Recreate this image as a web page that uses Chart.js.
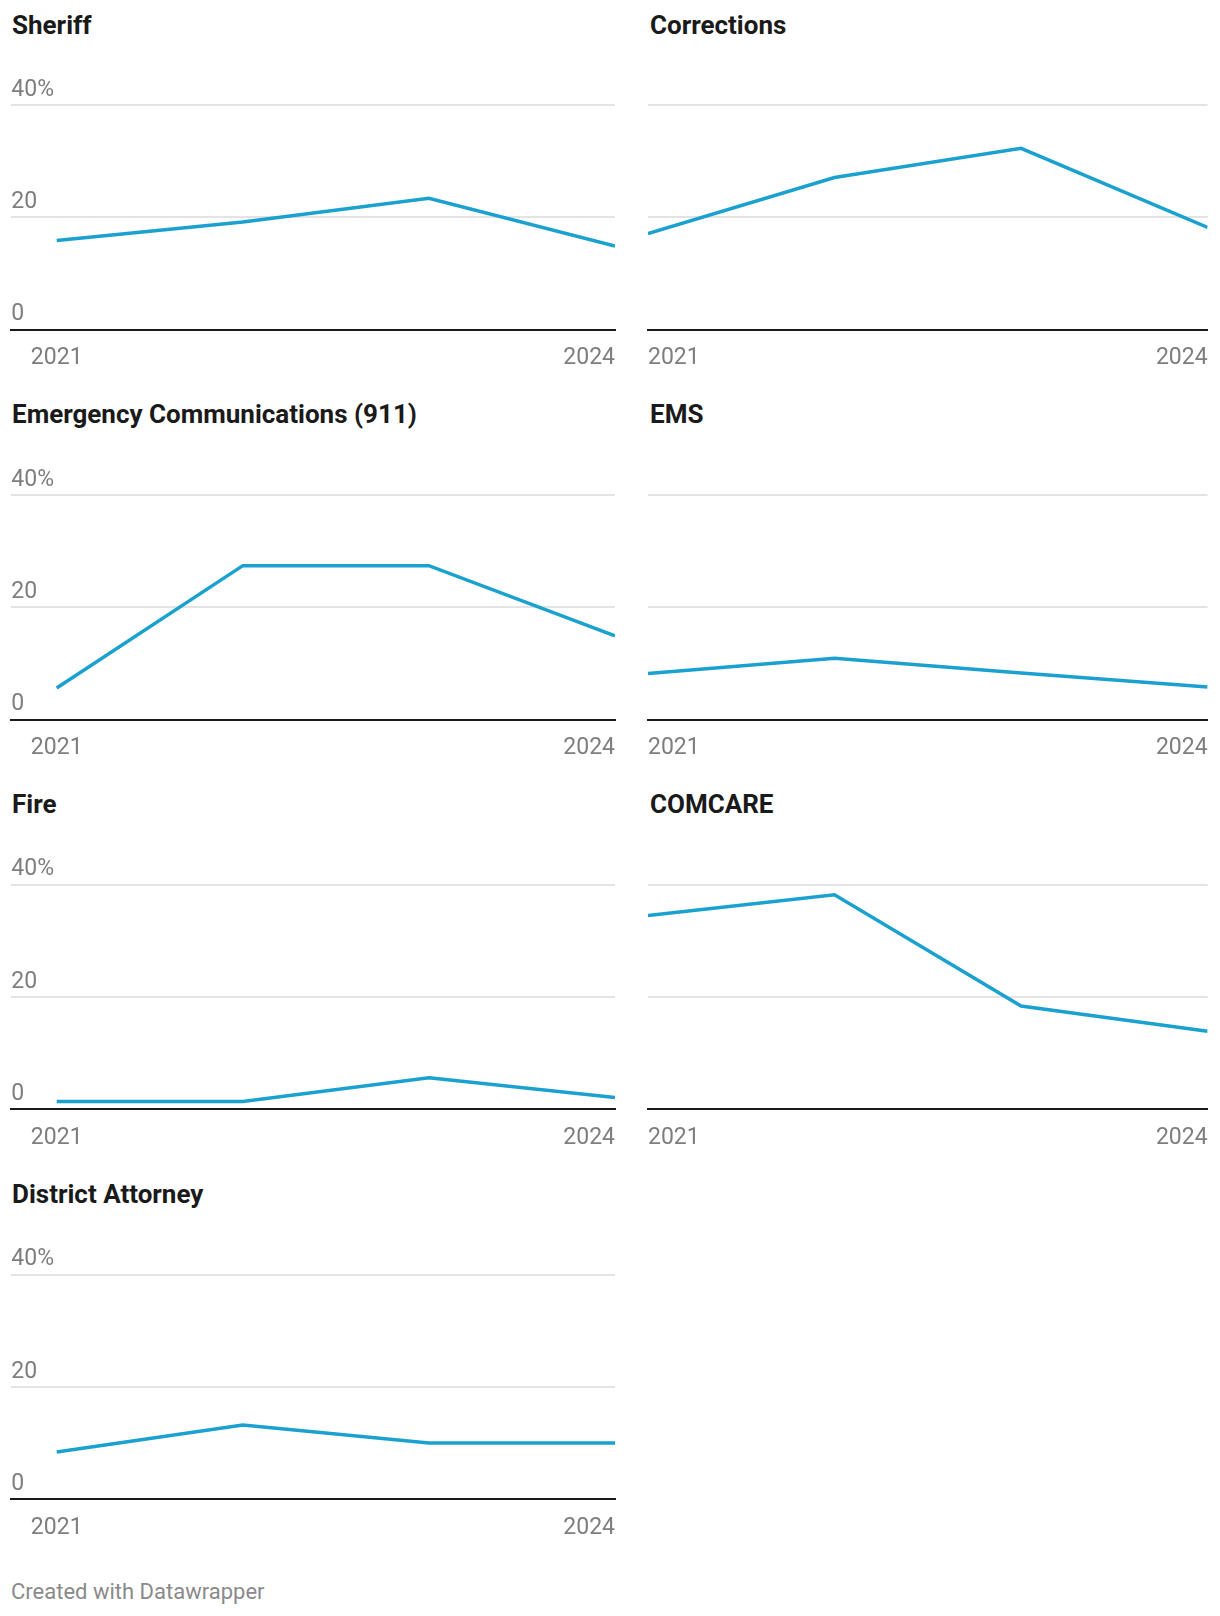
<!DOCTYPE html>
<html>
<head>
<meta charset="utf-8">
<script src="https://cdn.jsdelivr.net/npm/chart.js@4.4.1/dist/chart.umd.min.js"></script>
<style>
  html, body { margin: 0; padding: 0; background: #fff; overflow: hidden; }
  #page { position: relative; width: 1220px; height: 1616px; font-family: Roboto, "Noto Sans", sans-serif; }
  .title { position: absolute; font-weight: 700; font-size: 26px; line-height: 30px; color: #1a1a1a; white-space: nowrap; }
  canvas { position: absolute; }
  #footer { position: absolute; left: 11px; top: 1579px; font-size: 22px; line-height: 26px; color: #8a8a8a; }
</style>
</head>
<body>
<div id="page">
  <div id="footer">Created with Datawrapper</div>
</div>
<script>
// data (share in %, one value per year)
const years = [2021, 2022, 2023, 2024];
const sheriff = [15.9, 19.2, 23.4, 14.9];
const corrections = [17.1, 27.1, 32.3, 18.2];
const emergency911 = [5.6, 27.4, 27.4, 14.9];
const ems = [8.2, 10.9, 8.3, 5.8];
const fire = [1.4, 1.4, 5.6, 2.1];
const comcare = [34.5, 38.2, 18.4, 13.9];
const districtAttorney = [8.4, 13.2, 10.0, 10.0];

const titles = ["Sheriff", "Corrections", "Emergency Communications (911)", "EMS", "Fire", "COMCARE", "District Attorney"];
const series = [sheriff, corrections, emergency911, ems, fire, comcare, districtAttorney];
const yTicks = [0, 20, 40];
const xTickYears = [2021, 2024];

const BLUE = "#1aa1cf";
const GREY = "#7e7e7e";
const page = document.getElementById("page");

const rowStep = 389.8;
const baseline0 = 329.7;
const areaH = 224.6;
const axisH = 45;
const canvasH = 320;

series.forEach((values, i) => {
  const col = i % 2;
  const row = Math.floor(i / 2);
  const base = baseline0 + row * rowStep;
  const gridTop = base - areaH;

  const title = document.createElement("div");
  title.className = "title";
  title.textContent = titles[i];
  title.style.left = (col ? 650 : 12) + "px";
  title.style.top = (row * rowStep + 9.5) + "px";
  page.appendChild(title);

  const left = col === 0;
  const canvasLeft = left ? -20 : 608;
  const canvasW = left ? 680 : 640;
  const areaLeft = left ? 11.3 : 648;
  const areaRight = left ? 615 : 1207.6;
  const canvasTop = Math.round(gridTop - 45);
  const padTop = gridTop - canvasTop;

  const cv = document.createElement("canvas");
  cv.width = canvasW;
  cv.height = canvasH;
  cv.style.left = canvasLeft + "px";
  cv.style.top = canvasTop + "px";
  cv.style.width = canvasW + "px";
  cv.style.height = canvasH + "px";
  page.appendChild(cv);

  // left column leaves room for the y labels before the first year
  const xMin = left ? 2020.756 : 2021;

  new Chart(cv, {
    type: "line",
    data: {
      datasets: [{
        data: years.map((y, k) => ({ x: y, y: values[k] })),
        borderColor: BLUE,
        borderWidth: 3.5,
        pointRadius: 0,
        tension: 0,
        fill: false,
      }],
    },
    options: {
      responsive: false,
      animation: false,
      events: [],
      layout: {
        padding: {
          left: areaLeft - canvasLeft,
          right: canvasLeft + canvasW - areaRight,
          top: padTop,
          bottom: canvasH - padTop - areaH - axisH,
        },
      },
      plugins: { legend: { display: false }, tooltip: { enabled: false } },
      scales: {
        x: {
          type: "linear",
          min: xMin,
          max: 2024,
          afterBuildTicks: (scale) => {
            const t = xTickYears.map((v) => ({ value: v }));
            scale.ticks = left ? [{ value: xMin }].concat(t) : t;
          },
          afterFit: (scale) => { scale.height = axisH; },
          grid: { display: false, drawTicks: false },
          border: { display: true, color: "#1a1a1a", width: 2 },
          ticks: {
            autoSkip: false,
            maxRotation: 0,
            align: "inner",
            padding: 15,
            color: GREY,
            font: { family: "Roboto", size: 23 },
            callback: (v) => (v === xMin && left ? "" : String(v)),
          },
        },
        y: {
          min: 0,
          max: 40,
          afterBuildTicks: (scale) => { scale.ticks = yTicks.map((v) => ({ value: v })); },
          afterFit: (scale) => { scale.width = 0; },
          grid: {
            drawTicks: false,
            color: (ctx) => (ctx.tick && ctx.tick.value === 0 ? "rgba(0,0,0,0)" : "#e3e3e3"),
            lineWidth: 2,
          },
          border: { display: false },
          ticks: {
            display: left,
            mirror: true,
            padding: 0,
            labelOffset: -15,
            color: GREY,
            font: { family: "Roboto", size: 23 },
            callback: (v) => (v === 40 ? "40%" : String(v)),
          },
        },
      },
    },
  });
});
</script>
</body>
</html>
